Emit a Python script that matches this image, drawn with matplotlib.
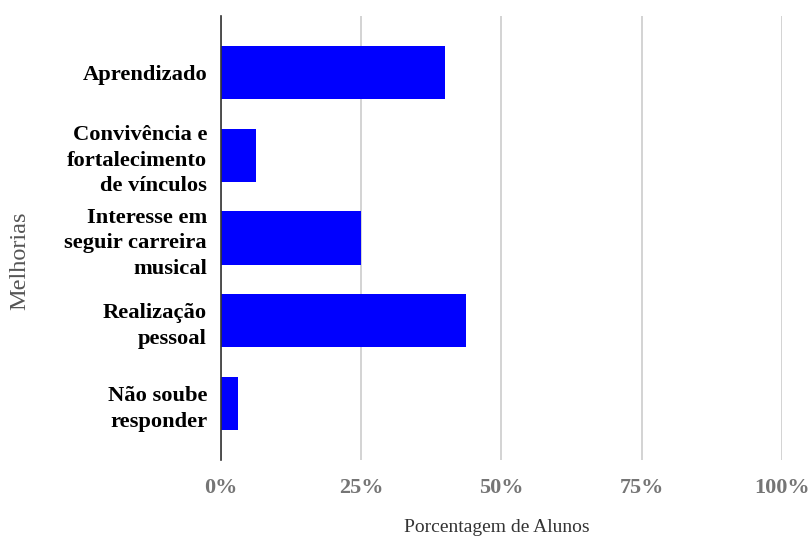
import matplotlib.pyplot as plt

# Dados do gráfico
categorias = ["Aprendizado", "Convivência e\nfortalecimento\nde vínculos",
              "Interesse em\nseguir carreira\nmusical", "Realização\npessoal",
              "Não soube\nresponder"]
porcentagens = [40.0, 6.2, 25.0, 43.7, 3.1]
ticks_x = [0, 25, 50, 75, 100]
rotulos_x = ["0%", "25%", "50%", "75%", "100%"]

plt.rcParams['font.family'] = ['Liberation Serif', 'DejaVu Serif']

fig = plt.figure(figsize=(8.11, 5.39), dpi=100)
ax = fig.add_axes([0.2725, 0.1466, 0.6915, 0.8237])

pos = range(len(categorias))
ax.barh(list(pos), porcentagens, height=0.64, color="#0000ff", zorder=3)

ax.set_ylim(4.68, -0.68)
ax.set_xlim(0, 100)
ax.set_yticks(list(pos))
ax.set_yticklabels(categorias, fontsize=16.2, fontweight="bold", color="black",
                   multialignment="right", linespacing=1.38)
ax.set_xticks(ticks_x)
ax.set_xticklabels(rotulos_x, fontsize=16, fontweight="bold", color="#757575")
ax.tick_params(axis="both", length=0)
ax.tick_params(axis="y", pad=10)
ax.tick_params(axis="x", pad=13)

ax.grid(axis="x", color="#cccccc", linewidth=1.2, zorder=0)
for s in ["top", "right", "bottom"]:
    ax.spines[s].set_visible(False)
ax.spines["left"].set_color("#333333")
ax.spines["left"].set_linewidth(1.2)
ax.spines["left"].set_zorder(4)

fig.text(497 / 811, 1 - 528 / 539, "Porcentagem de Alunos", fontsize=14,
         color="#333333", ha="center", va="center")
fig.text(20 / 811, 1 - 261 / 539, "Melhorias", fontsize=17.5, color="#555555",
         rotation=90, ha="center", va="center")

fig.savefig("out.png", dpi=100)
